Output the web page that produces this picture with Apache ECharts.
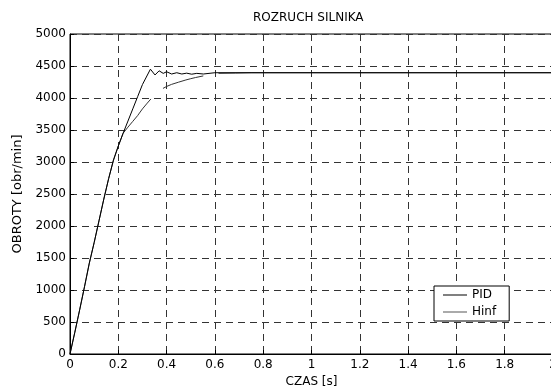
<!DOCTYPE html>
<html>
<head>
<meta charset="utf-8">
<script src="https://cdn.jsdelivr.net/npm/echarts@6/dist/echarts.min.js"></script>
<style>
  html, body { margin: 0; padding: 0; background: #fff; }
  #chart { width: 551px; height: 392px; }
</style>
</head>
<body>
<div id="chart"></div>
<script>
// Motor start-up: speed [obr/min] against time [s]
const xTicks = ['0', '0.2', '0.4', '0.6', '0.8', '1', '1.2', '1.4', '1.6', '1.8', '2'];
const yTicks = ['0', '500', '1000', '1500', '2000', '2500', '3000', '3500', '4000', '4500', '5000'];

// PID controller response
const pidTime  = [0, 0.02, 0.04, 0.06, 0.08, 0.10, 0.12, 0.14, 0.16, 0.18, 0.20, 0.22, 0.24, 0.26, 0.28, 0.30, 0.333,
                  0.352, 0.369, 0.386, 0.40, 0.421, 0.442, 0.463, 0.483, 0.504, 0.525, 0.552, 0.60, 2.0];
const pidSpeed = [0, 340, 690, 1050, 1420, 1740, 2080, 2420, 2740, 3030, 3250, 3450, 3640, 3830, 4020, 4210, 4450,
                  4360, 4425, 4385, 4410, 4375, 4395, 4375, 4388, 4372, 4385, 4375, 4395, 4395];

// H-infinity controller response (null marks breaks in the trace)
const hinfTime  = [0, 0.02, 0.04, 0.06, 0.08, 0.10, 0.12, 0.14, 0.16, 0.18, 0.20, 0.22, 0.24, 0.26, 0.28, 0.30, 0.32, 0.335,
                   0.36, 0.385, 0.40, 0.42, 0.45, 0.48, 0.50, 0.52, 0.552, 0.58, 0.615, 0.685, 0.75, 2.0];
const hinfSpeed = [0, 340, 690, 1050, 1420, 1740, 2080, 2420, 2740, 3030, 3250, 3450, 3545, 3635, 3725, 3830, 3920, 3985,
                   null, 4150, 4180, 4212, 4248, 4282, 4302, 4320, 4345, null, 4386, 4390, 4395, 4395];

const pairs = (t, v) => t.map((x, i) => [x, v[i] === null ? '-' : v[i]]);

const font = 'DejaVu Sans';
const chart = echarts.init(document.getElementById('chart'), null, { renderer: 'canvas' });

chart.setOption({
  animation: false,
  backgroundColor: '#fff',
  title: {
    text: 'ROZRUCH SILNIKA',
    left: 253,
    top: 12,
    padding: 0,
    textStyle: { fontFamily: font, fontSize: 12, fontWeight: 'normal', color: '#000' }
  },
  grid: {
    left: 70, top: 34, right: -2, bottom: 38,
    containLabel: false,
    outerBoundsMode: 'none',
    show: true, borderColor: '#000', borderWidth: 1, backgroundColor: '#fff'
  },
  legend: {
    orient: 'vertical',
    left: 434, top: 286,
    padding: [3, 13, 3, 9],
    itemGap: 5,
    itemWidth: 24, itemHeight: 1,
    itemTextGap: 6,
    icon: 'rect',
    backgroundColor: '#fff',
    borderColor: '#000', borderWidth: 1, borderRadius: 0,
    textStyle: { fontFamily: font, fontSize: 12, color: '#000' },
    data: ['PID', 'Hinf']
  },
  xAxis: {
    type: 'value', min: 0, max: 2, interval: 0.2,
    name: 'CZAS [s]', nameLocation: 'middle', nameGap: 20,
    nameTextStyle: { fontFamily: font, fontSize: 12, color: '#000' },
    axisLine: { lineStyle: { color: '#000', width: 1 } },
    axisTick: { inside: true, length: 4, lineStyle: { color: '#000' } },
    axisLabel: {
      margin: 5, fontFamily: font, fontSize: 12, color: '#000',
      formatter: v => xTicks[Math.round(v / 0.2)]
    },
    splitLine: { show: true, lineStyle: { color: '#333', width: 1, type: [7, 5] } }
  },
  yAxis: {
    type: 'value', min: 0, max: 5000, interval: 500,
    name: 'OBROTY [obr/min]', nameLocation: 'middle', nameGap: 42,
    nameTextStyle: { fontFamily: font, fontSize: 13, color: '#000' },
    axisLine: { show: true, lineStyle: { color: '#000', width: 1 } },
    axisTick: { show: true, inside: true, length: 4, lineStyle: { color: '#000' } },
    axisLabel: {
      margin: 4, fontFamily: font, fontSize: 12, color: '#000',
      formatter: v => yTicks[Math.round(v / 500)]
    },
    splitLine: { show: true, lineStyle: { color: '#333', width: 1, type: [7, 5] } }
  },
  series: [
    {
      name: 'PID', type: 'line', symbol: 'none', z: 3,
      color: '#000',
      lineStyle: { color: '#000', width: 1 },
      data: pairs(pidTime, pidSpeed)
    },
    {
      name: 'Hinf', type: 'line', symbol: 'none', z: 2,
      color: '#555',
      connectNulls: false,
      lineStyle: { color: '#333', width: 1 },
      data: pairs(hinfTime, hinfSpeed)
    }
  ]
});
</script>
</body>
</html>
